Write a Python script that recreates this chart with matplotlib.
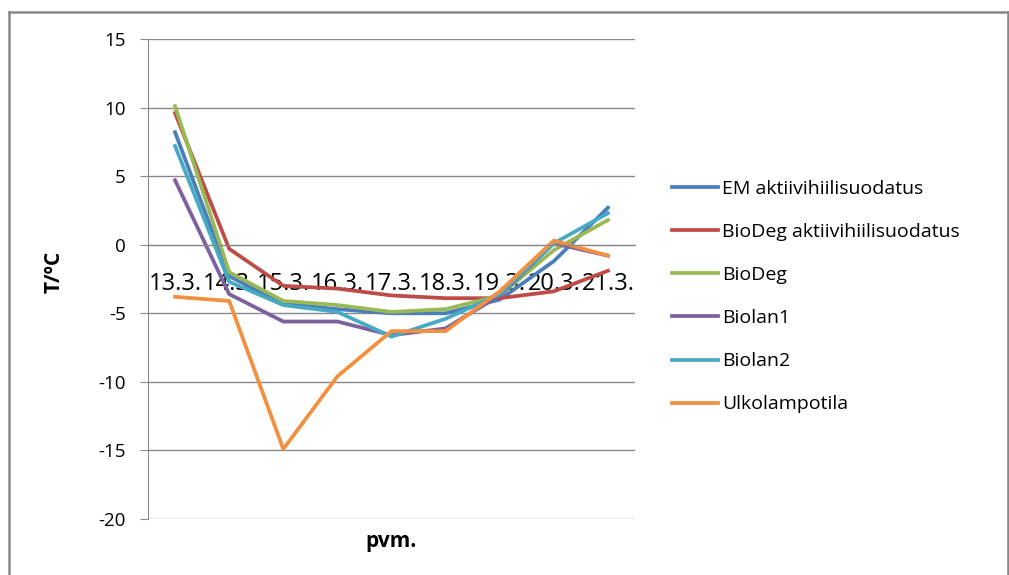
import numpy as np
import matplotlib.pyplot as plt
from matplotlib.lines import Line2D

plt.rcParams['font.family'] = ['Open Sans', 'DejaVu Sans']
plt.rcParams['axes.unicode_minus'] = False

# dates on the category axis
days = ['13.3.', '14.3.', '15.3.', '16.3.', '17.3.', '18.3.', '19.3.', '20.3.', '21.3.']

# temperatures (°C)
em_akt = [8.2, -2.3, -4.3, -4.7, -5.0, -5.0, -4.0, -1.2, 2.7]
biodeg_akt = [9.6, -0.3, -3.0, -3.2, -3.7, -3.9, -3.9, -3.4, -1.9]
biodeg = [10.1, -2.0, -4.1, -4.4, -4.9, -4.7, -3.7, -0.4, 1.8]
biolan1 = [4.7, -3.6, -5.6, -5.6, -6.6, -6.1, -3.7, 0.1, -0.8]
biolan2 = [7.2, -2.7, -4.4, -4.9, -6.7, -5.4, -3.6, 0.1, 2.3]
ulko = [-3.8, -4.1, -14.9, -9.6, -6.3, -6.3, -3.4, 0.3, -0.8]

series = [
    ("EM aktiivihiilisuodatus", em_akt, "#4A7EBB"),
    ("BioDeg aktiivihiilisuodatus", biodeg_akt, "#BE4B48"),
    ("BioDeg", biodeg, "#98B954"),
    ("Biolan1", biolan1, "#7D60A0"),
    ("Biolan2", biolan2, "#46AAC5"),
    ("Ulkolampotila", ulko, "#F39040"),
]

fig = plt.figure(figsize=(10.09, 5.75), dpi=100)
ax = fig.add_axes([148 / 1009, 56 / 575, 487 / 1009, 480 / 575])

x = np.arange(len(days))
for label, vals, color in series:
    ax.plot(x, vals, color=color, lw=2.7, label=label)

# x axis crosses at 0, like the Excel original
for side in ['top', 'right']:
    ax.spines[side].set_visible(False)
ax.spines['left'].set_color('#888888')
ax.spines['bottom'].set_position(('data', 0))
ax.spines['bottom'].set_color('#888888')

ax.set_xlim(-0.5, len(days) - 0.5)
ax.set_ylim(-20, 15)
ax.set_yticks(np.arange(-20, 16, 5))
ax.set_xticks(x)
ax.set_xticklabels(days)
ax.tick_params(axis='x', length=0, pad=20, labelsize=17)
ax.tick_params(axis='y', length=6, color='#888888', labelsize=13.5, pad=10)
ax.grid(axis='y', color='#888888', lw=1)
ax.set_axisbelow(True)

ax.set_ylabel('T/ºC', fontsize=15, fontweight='bold')
ax.yaxis.set_label_coords(-0.172, 0.515)
ax.text(0.5, -0.046, 'pvm.', transform=ax.transAxes, ha='center', va='center',
        fontsize=15, fontweight='bold')

fig.legend(loc='center left', bbox_to_anchor=(654 / 1009, 0.484), frameon=False,
           fontsize=14, handlelength=2.4, handletextpad=0.2, labelspacing=1.29)

# outer chart frame
frame = dict(color='#888888', lw=1.8, transform=fig.transFigure)
fig.add_artist(Line2D([9 / 1009, 9 / 1009], [0, 1 - 12 / 575], **frame))
fig.add_artist(Line2D([9 / 1009, 1008 / 1009], [1 - 12 / 575, 1 - 12 / 575], **frame))
fig.add_artist(Line2D([1008 / 1009, 1008 / 1009], [0, 1 - 12 / 575], **frame))

fig.savefig('out.png', dpi=100)
